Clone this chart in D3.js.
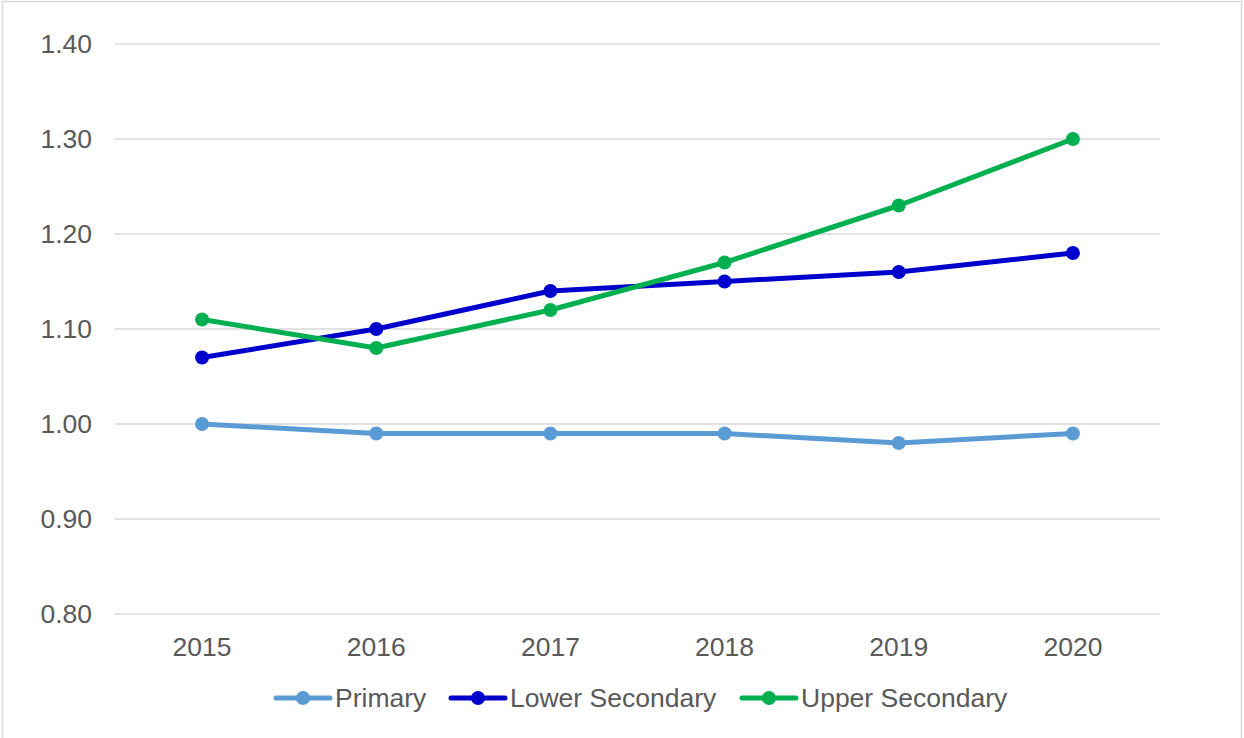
<!DOCTYPE html>
<html>
<head>
<meta charset="utf-8">
<script src="https://cdn.jsdelivr.net/npm/d3@7"></script>
<style>
  html, body { margin: 0; padding: 0; background: #fff; }
  svg { display: block; font-family: "Liberation Sans", Arial, sans-serif; }
</style>
</head>
<body>
<svg id="chart" width="1244" height="738"></svg>
<script>
const years = ["2015", "2016", "2017", "2018", "2019", "2020"];
const primary = [1.00, 0.99, 0.99, 0.99, 0.98, 0.99];
const lowerSecondary = [1.07, 1.10, 1.14, 1.15, 1.16, 1.18];
const upperSecondary = [1.11, 1.08, 1.12, 1.17, 1.23, 1.30];
const yTicks = [0.80, 0.90, 1.00, 1.10, 1.20, 1.30, 1.40];
const seriesNames = ["Primary", "Lower Secondary", "Upper Secondary"];
const seriesColors = ["#5b9bd5", "#0000cc", "#00b050"];

(function () {
const series = [primary, lowerSecondary, upperSecondary].map((v, i) => ({
  name: seriesNames[i], color: seriesColors[i], values: v
}));

const svg = d3.select("#chart");
const W = 1244, H = 738;
const pLeft = 115, pRight = 1160, pTop = 44, pBottom = 614;
const fs = "26.5px";

// frame
svg.append("rect").attr("x", 2.5).attr("y", 1.5).attr("width", W - 5).attr("height", H + 10)
  .attr("fill", "none").attr("stroke", "#d9d9d9").attr("stroke-width", 1.5);

const x = d3.scaleBand().domain(years).range([pLeft, pRight]);
const y = d3.scaleLinear().domain([0.8, 1.4]).range([pBottom, pTop]);

// gridlines
svg.append("g").selectAll("line").data(yTicks).join("line")
  .attr("x1", pLeft).attr("x2", pRight)
  .attr("y1", d => y(d)).attr("y2", d => y(d))
  .attr("stroke", "#d9d9d9").attr("stroke-width", 1.5);

// y axis
const yAxis = svg.append("g").attr("transform", `translate(${pLeft},0)`)
  .call(d3.axisLeft(y).tickValues(yTicks).tickFormat(d3.format(".2f")).tickSize(0).tickPadding(23));
yAxis.select(".domain").remove();
yAxis.selectAll("text").attr("fill", "#595959").attr("font-size", fs)
  .attr("font-family", "'Liberation Sans', Arial, sans-serif");

// x axis
const xAxis = svg.append("g").attr("transform", `translate(0,${pBottom})`)
  .call(d3.axisBottom(x).tickSize(0).tickPadding(23));
xAxis.select(".domain").remove();
xAxis.selectAll("text").attr("fill", "#595959").attr("font-size", fs)
  .attr("font-family", "'Liberation Sans', Arial, sans-serif");

const cx = d => x(d) + x.bandwidth() / 2;
const line = d3.line().x((d, i) => cx(years[i])).y(d => y(d));

series.forEach(s => {
  const g = svg.append("g");
  g.append("path").datum(s.values).attr("d", line)
    .attr("fill", "none").attr("stroke", s.color).attr("stroke-width", 5)
    .attr("stroke-linejoin", "round").attr("stroke-linecap", "round");
  g.selectAll("circle").data(s.values).join("circle")
    .attr("cx", (d, i) => cx(years[i])).attr("cy", d => y(d)).attr("r", 7)
    .attr("fill", s.color);
});

// legend
const legendX = [276, 451, 742];
const legendY = 698;
series.forEach((s, i) => {
  const g = svg.append("g").attr("transform", `translate(${legendX[i]},${legendY})`);
  g.append("line").attr("x1", 0).attr("x2", 54).attr("y1", 0).attr("y2", 0)
    .attr("stroke", s.color).attr("stroke-width", 5).attr("stroke-linecap", "round");
  g.append("circle").attr("cx", 27).attr("cy", 0).attr("r", 7).attr("fill", s.color);
  g.append("text").attr("x", 59).attr("y", 0).attr("dy", "0.35em")
    .attr("fill", "#595959").attr("font-size", fs).text(s.name);
});
})();
</script>
</body>
</html>
